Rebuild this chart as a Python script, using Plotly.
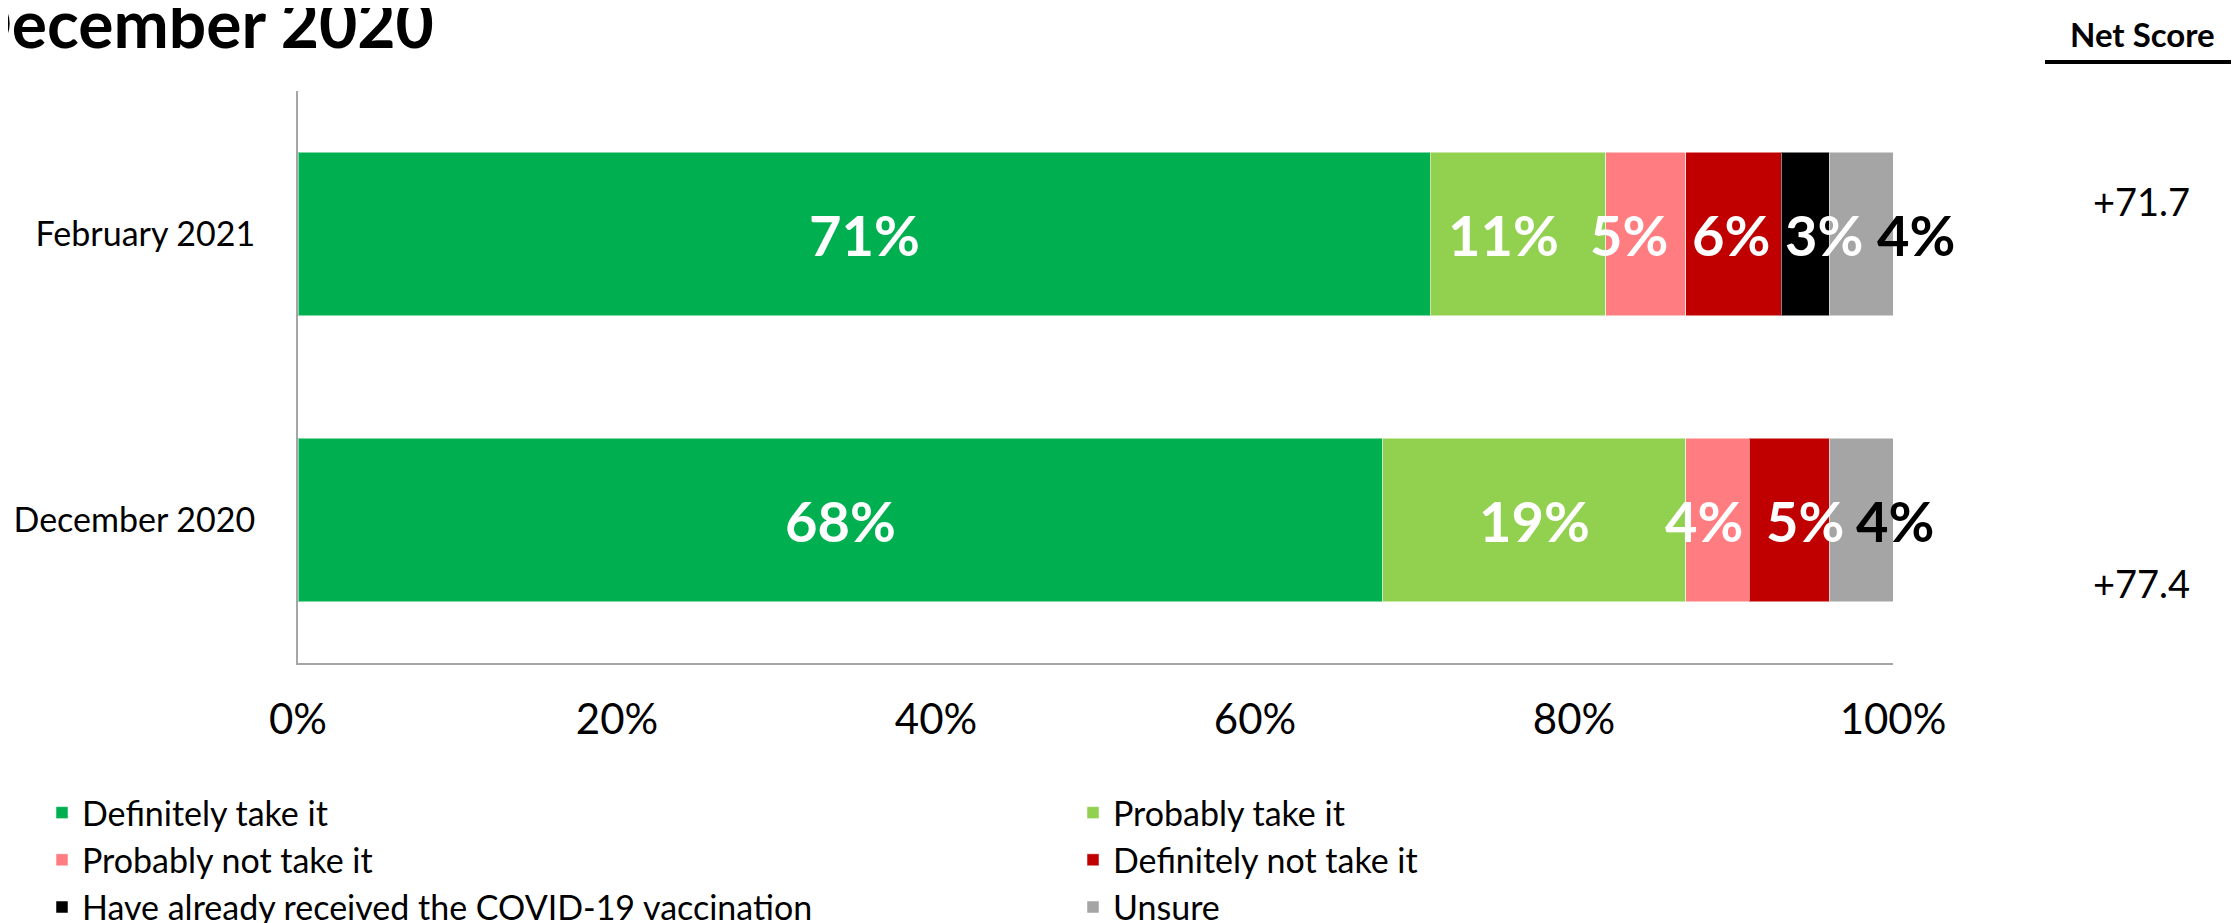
import plotly.graph_objects as go

# ---------------- data ----------------
categories = ["February 2021", "December 2020"]
series_names = [
    "Definitely take it",
    "Probably take it",
    "Probably not take it",
    "Definitely not take it",
    "Have already received the COVID-19 vaccination",
    "Unsure",
]
definitely_take = [71, 68]
probably_take = [11, 19]
probably_not = [5, 4]
definitely_not = [6, 5]
already_received = [3, 0]
unsure = [4, 4]
net_scores = [71.7, 77.4]
x_tick_values = [0, 20, 40, 60, 80, 100]
x_tick_labels = ["0%", "20%", "40%", "60%", "80%", "100%"]
title_text = "December 2020"
net_header = "Net Score"

# ---------------- style ----------------
series_values = [definitely_take, probably_take, probably_not,
                 definitely_not, already_received, unsure]
colors = ["#00B050", "#92D050", "#FF7C80", "#C00000", "#000000", "#A5A5A5"]
label_colors = ["white", "white", "white", "white", "white", "black"]
legend_column = ["legend", "legend2", "legend", "legend2", "legend", "legend2"]
# small horizontal nudges (px) of the value labels, per category / series
label_nudge = {
    "February 2021": [0, -15, -17, -3, 19, 55],
    "December 2020": [0, 0, -14, 16, 0, 34],
}
FONT = "Lato"
W, H = 2239, 923
ML, MR, MT, MB = 290, 354, 83, 268
PW, PH = W - ML - MR, H - MT - MB


def px_x(px):
    return (px - ML) / PW


def px_y(py):
    return (H - MB - py) / PH


fig = go.Figure()
for name, vals, col, leg in zip(series_names, series_values, colors, legend_column):
    fig.add_trace(go.Bar(
        y=categories, x=vals, name=name, orientation="h",
        legend=leg, legendgroup=name,
        marker=dict(color=col, line=dict(color="rgba(255,255,255,0.5)", width=1)),
        hoverinfo="x+name",
    ))

annotations = []
# value labels inside bars
for ci, cat in enumerate(categories):
    start = 0
    for si, vals in enumerate(series_values):
        v = vals[ci]
        if v:
            annotations.append(dict(
                x=start + v / 2, y=cat, xref="x", yref="y",
                text=f"<b>{v}%</b>", showarrow=False,
                xshift=label_nudge[cat][si],
                font=dict(family=FONT, size=56, color=label_colors[si]),
            ))
        start += v

# net scores
net_y_px = [193, 575]
for ci, cat in enumerate(categories):
    annotations.append(dict(
        x=px_x(2133), y=px_y(net_y_px[ci]), xref="paper", yref="paper",
        text=f"+{net_scores[ci]:.1f}", showarrow=False,
        xanchor="center", yanchor="middle",
        font=dict(family=FONT, size=38, color="black"),
    ))
annotations.append(dict(
    x=px_x(2134), y=px_y(26), xref="paper", yref="paper",
    text=f"<b>{net_header}</b>", showarrow=False,
    xanchor="center", yanchor="middle",
    font=dict(family=FONT, size=33, color="black"),
))
# title (partly cut off at left / top as in the reference)
annotations.append(dict(
    x=px_x(428), y=px_y(14), xref="paper", yref="paper",
    text=f"<b>{title_text}</b>", showarrow=False,
    xanchor="right", yanchor="middle",
    font=dict(family=FONT, size=66, color="black"),
))

legend_common = dict(
    orientation="v", traceorder="normal", tracegroupgap=4,
    yanchor="top", xanchor="left",
    font=dict(family=FONT, size=34, color="black"),
    bgcolor="rgba(0,0,0,0)",
)

fig.update_layout(
    width=W, height=H,
    margin=dict(l=ML, r=MR, t=MT, b=MB, autoexpand=False),
    barmode="stack", bargap=0.43,
    paper_bgcolor="white", plot_bgcolor="white",
    font=dict(family=FONT, color="black"),
    showlegend=True,
    legend=dict(x=px_x(34), y=px_y(776), **legend_common),
    legend2=dict(x=px_x(1065), y=px_y(776), **legend_common),
    xaxis=dict(
        range=[0, 100], tickvals=x_tick_values, ticktext=x_tick_labels,
        showgrid=False, zeroline=False, showline=True,
        linecolor="#A6A6A6", linewidth=2, ticks="",
        ticklabelstandoff=19,
        tickfont=dict(family=FONT, size=42, color="black"),
        fixedrange=True,
    ),
    yaxis=dict(
        categoryorder="array", categoryarray=categories[::-1],
        range=[-0.5, 1.5], showgrid=False, zeroline=False,
        showline=True, linecolor="#A6A6A6", linewidth=2, ticks="",
        ticklabelstandoff=34,
        tickfont=dict(family=FONT, size=34, color="black"),
        fixedrange=True,
    ),
    annotations=annotations,
    shapes=[dict(
        type="line", xref="paper", yref="paper",
        x0=px_x(2037), x1=px_x(2232), y0=px_y(54), y1=px_y(54),
        line=dict(color="black", width=4),
    )],
)

fig.write_html("out.html")
